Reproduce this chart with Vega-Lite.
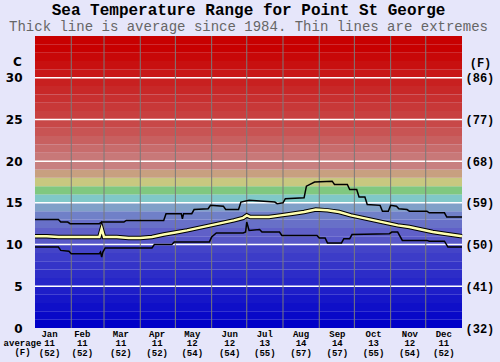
{
  "$schema": "https://vega.github.io/schema/vega-lite/v6.json",
  "width": 427,
  "height": 292,
  "autosize": "none",
  "padding": {"left": 35, "top": 36, "right": 38, "bottom": 34},
  "background": "#e6e6fa",
  "config": {"view": {"stroke": null}},
  "title": {
    "text": "Sea Temperature Range for Point St George",
    "subtitle": "Thick line is average since 1984. Thin lines are extremes",
    "font": "Liberation Mono", "fontSize": 16, "fontWeight": "bold", "color": "#000000",
    "subtitleFont": "Liberation Mono", "subtitleFontSize": 14, "subtitleColor": "#666666",
    "anchor": "middle", "frame": "group", "offset": 2, "subtitlePadding": 1.5
  },
  "datasets": {
    "bands": [
      {"lo": 0, "hi": 1}, {"lo": 1, "hi": 2}, {"lo": 2, "hi": 3}, {"lo": 3, "hi": 4}, {"lo": 4, "hi": 5},
      {"lo": 5, "hi": 6}, {"lo": 6, "hi": 7}, {"lo": 7, "hi": 8}, {"lo": 8, "hi": 9}, {"lo": 9, "hi": 10},
      {"lo": 10, "hi": 11}, {"lo": 11, "hi": 12}, {"lo": 12, "hi": 13}, {"lo": 13, "hi": 14}, {"lo": 14, "hi": 15},
      {"lo": 15, "hi": 16}, {"lo": 16, "hi": 17}, {"lo": 17, "hi": 18}, {"lo": 18, "hi": 19}, {"lo": 19, "hi": 20},
      {"lo": 20, "hi": 21}, {"lo": 21, "hi": 22}, {"lo": 22, "hi": 23}, {"lo": 23, "hi": 24}, {"lo": 24, "hi": 25},
      {"lo": 25, "hi": 26}, {"lo": 26, "hi": 27}, {"lo": 27, "hi": 28}, {"lo": 28, "hi": 29}, {"lo": 29, "hi": 30},
      {"lo": 30, "hi": 31}, {"lo": 31, "hi": 32}, {"lo": 32, "hi": 33}, {"lo": 33, "hi": 34}, {"lo": 34, "hi": 35}
    ],
    "grid": [{"g": 5}, {"g": 10}, {"g": 15}, {"g": 20}, {"g": 25}, {"g": 30}],
    "months": [{"d": 31}, {"d": 59}, {"d": 90}, {"d": 120}, {"d": 151}, {"d": 181}, {"d": 212}, {"d": 243}, {"d": 273}, {"d": 304}, {"d": 334}],
    "maxT": [
      {"d": 0, "t": 13.0}, {"d": 20, "t": 13.0}, {"d": 22, "t": 12.7}, {"d": 28, "t": 12.7}, {"d": 30, "t": 12.5},
      {"d": 55, "t": 12.5}, {"d": 57, "t": 12.7}, {"d": 76, "t": 12.7}, {"d": 78, "t": 12.9}, {"d": 110, "t": 12.9},
      {"d": 112, "t": 13.7}, {"d": 125, "t": 13.7}, {"d": 126, "t": 13.1}, {"d": 127, "t": 13.7}, {"d": 134, "t": 13.7},
      {"d": 136, "t": 14.2}, {"d": 148, "t": 14.3}, {"d": 150, "t": 14.7}, {"d": 161, "t": 14.6}, {"d": 163, "t": 14.2},
      {"d": 174, "t": 14.2}, {"d": 176, "t": 15.1}, {"d": 183, "t": 15.3}, {"d": 205, "t": 15.1}, {"d": 207, "t": 14.9},
      {"d": 212, "t": 15.0}, {"d": 214, "t": 15.5}, {"d": 230, "t": 15.6}, {"d": 232, "t": 17.0}, {"d": 239, "t": 17.5},
      {"d": 254, "t": 17.6}, {"d": 256, "t": 17.2}, {"d": 267, "t": 17.2}, {"d": 269, "t": 16.6}, {"d": 275, "t": 16.6},
      {"d": 277, "t": 15.7}, {"d": 282, "t": 15.7}, {"d": 284, "t": 14.8}, {"d": 295, "t": 14.7}, {"d": 297, "t": 14.0},
      {"d": 302, "t": 14.0}, {"d": 304, "t": 14.7}, {"d": 309, "t": 14.6}, {"d": 311, "t": 14.3}, {"d": 318, "t": 14.2},
      {"d": 320, "t": 14.0}, {"d": 335, "t": 14.0}, {"d": 337, "t": 13.8}, {"d": 350, "t": 13.8}, {"d": 352, "t": 13.3},
      {"d": 365, "t": 13.3}
    ],
    "minT": [
      {"d": 0, "t": 9.7}, {"d": 20, "t": 9.7}, {"d": 22, "t": 9.3}, {"d": 29, "t": 9.2}, {"d": 31, "t": 8.9},
      {"d": 55, "t": 8.9}, {"d": 56, "t": 9.1}, {"d": 57, "t": 8.5}, {"d": 58, "t": 9.1}, {"d": 60, "t": 9.6},
      {"d": 100, "t": 9.6}, {"d": 102, "t": 10.0}, {"d": 117, "t": 10.0}, {"d": 119, "t": 10.3}, {"d": 149, "t": 10.3},
      {"d": 151, "t": 10.9}, {"d": 155, "t": 11.4}, {"d": 178, "t": 11.4}, {"d": 180, "t": 11.5}, {"d": 181, "t": 12.7},
      {"d": 183, "t": 11.7}, {"d": 192, "t": 11.8}, {"d": 194, "t": 11.5}, {"d": 209, "t": 11.5}, {"d": 211, "t": 11.1},
      {"d": 241, "t": 11.1}, {"d": 243, "t": 10.8}, {"d": 248, "t": 10.8}, {"d": 250, "t": 10.2}, {"d": 262, "t": 10.2},
      {"d": 264, "t": 10.7}, {"d": 269, "t": 10.7}, {"d": 271, "t": 11.2}, {"d": 303, "t": 11.3}, {"d": 305, "t": 11.5},
      {"d": 310, "t": 11.5}, {"d": 314, "t": 10.5}, {"d": 335, "t": 10.5}, {"d": 337, "t": 10.4}, {"d": 350, "t": 10.4},
      {"d": 353, "t": 9.7}, {"d": 365, "t": 9.7}
    ],
    "avgT": [
      {"d": 0, "t": 11.0}, {"d": 10, "t": 11.0}, {"d": 20, "t": 10.9}, {"d": 30, "t": 10.9}, {"d": 45, "t": 10.9},
      {"d": 55, "t": 10.9}, {"d": 57, "t": 11.9}, {"d": 59, "t": 10.9}, {"d": 70, "t": 10.9}, {"d": 80, "t": 10.8},
      {"d": 90, "t": 10.8}, {"d": 100, "t": 10.9}, {"d": 110, "t": 11.2}, {"d": 120, "t": 11.45}, {"d": 130, "t": 11.7},
      {"d": 140, "t": 12.0}, {"d": 150, "t": 12.3}, {"d": 160, "t": 12.6}, {"d": 170, "t": 12.9}, {"d": 178, "t": 13.2},
      {"d": 181, "t": 13.5}, {"d": 184, "t": 13.3}, {"d": 190, "t": 13.3}, {"d": 200, "t": 13.3}, {"d": 210, "t": 13.5},
      {"d": 220, "t": 13.7}, {"d": 230, "t": 13.9}, {"d": 240, "t": 14.2}, {"d": 250, "t": 14.1}, {"d": 260, "t": 13.9},
      {"d": 270, "t": 13.5}, {"d": 280, "t": 13.2}, {"d": 290, "t": 12.9}, {"d": 300, "t": 12.6}, {"d": 310, "t": 12.3},
      {"d": 320, "t": 12.1}, {"d": 330, "t": 11.8}, {"d": 340, "t": 11.5}, {"d": 350, "t": 11.3}, {"d": 365, "t": 11.0}
    ]
  },
  "resolve": {"axis": {"x": "independent", "y": "independent"}},
  "layer": [
    {
      "data": {"name": "bands"},
      "mark": {"type": "rect"},
      "encoding": {
        "y": {"field": "lo", "type": "quantitative", "scale": {"domain": [0, 35], "nice": false, "zero": false},
          "axis": {"orient": "left", "values": [0, 5, 10, 15, 20, 25, 30], "domain": false, "ticks": false, "grid": false,
            "labelFont": "DejaVu Sans", "labelFontSize": 12, "labelFontWeight": "bold", "labelColor": "#000000", "labelPadding": 13,
            "title": "C", "titleAngle": 0, "titleX": -18, "titleY": 25, "titleAlign": "center", "titleBaseline": "middle",
            "titleFont": "DejaVu Sans", "titleFontSize": 12, "titleFontWeight": "bold", "titleColor": "#000000"}},
        "y2": {"field": "hi"},
        "color": {"field": "lo", "type": "ordinal", "legend": null,
          "scale": {"range": ["#0000c8", "#0808c8", "#0f0fc8", "#1616c8", "#1e1ec8", "#2626c8", "#2d2dc8", "#3434c8", "#3c3cc8", "#4444c8",
            "#5858c8", "#6060c8", "#6870c8", "#7080c8", "#80a0c8", "#80c8c8", "#80c880", "#c8c880", "#c8a080", "#c88080",
            "#c87878", "#c86c6c", "#c86060", "#c85454", "#c84848", "#c84040", "#c83838", "#c83030", "#c82828", "#c82020",
            "#c81818", "#c81010", "#c80808", "#c80000", "#c80000"]}}
      }
    },
    {
      "data": {"name": "grid"},
      "mark": {"type": "rule", "color": "#ffffff", "strokeWidth": 1.5},
      "encoding": {
        "y": {"field": "g", "type": "quantitative", "scale": {"domain": [0, 35], "nice": false, "zero": false},
          "axis": {"orient": "right", "values": [0, 5, 10, 15, 20, 25, 30], "domain": false, "ticks": false, "grid": false,
            "labelExpr": "'(' + round(datum.value * 9 / 5 + 32) + ')'",
            "labelFont": "Liberation Mono", "labelFontSize": 12, "labelFontWeight": "bold", "labelColor": "#000000", "labelPadding": 3,
            "title": "(F)", "titleAngle": 0, "titleX": 18, "titleY": 26, "titleAlign": "center", "titleBaseline": "middle",
            "titleFont": "Liberation Mono", "titleFontSize": 12, "titleFontWeight": "bold", "titleColor": "#000000"}}
      }
    },
    {
      "data": {"name": "months"},
      "mark": {"type": "rule", "color": "#7a7a7a", "strokeWidth": 1},
      "encoding": {
        "x": {"field": "d", "type": "quantitative", "scale": {"domain": [0, 365], "nice": false, "zero": false},
          "axis": {"orient": "bottom", "values": [12, 40, 73, 104, 134, 166, 196, 227, 258, 289, 320, 349],
            "domain": false, "ticks": false, "grid": false, "labelOverlap": false, "labelFlush": false, "labelBound": false,
            "labelExpr": "datum.value < 20 ? ['Jan','11','(52)'] : datum.value < 50 ? ['Feb','11','(52)'] : datum.value < 80 ? ['Mar','11','(52)'] : datum.value < 110 ? ['Apr','11','(52)'] : datum.value < 140 ? ['May','12','(54)'] : datum.value < 170 ? ['Jun','12','(54)'] : datum.value < 200 ? ['Jul','13','(55)'] : datum.value < 230 ? ['Aug','14','(57)'] : datum.value < 260 ? ['Sep','14','(57)'] : datum.value < 295 ? ['Oct','13','(55)'] : datum.value < 325 ? ['Nov','12','(54)'] : ['Dec','11','(52)']",
            "labelFont": "Liberation Mono", "labelFontSize": 9, "labelFontWeight": "bold", "labelColor": "#000000",
            "labelBaseline": "top", "labelPadding": 1.5, "labelLineHeight": 9.3, "labelAlign": "center",
            "title": ["average", "(F)"], "titleX": -13, "titleY": 10.5, "titleAlign": "center", "titleBaseline": "top", "titleLineHeight": 9.3,
            "titleFont": "Liberation Mono", "titleFontSize": 9, "titleFontWeight": "bold", "titleColor": "#000000"}}
      }
    },
    {
      "data": {"name": "maxT"},
      "mark": {"type": "line", "color": "#000000", "strokeWidth": 1.5},
      "encoding": {
        "x": {"field": "d", "type": "quantitative", "scale": {"domain": [0, 365], "nice": false, "zero": false}, "axis": null},
        "y": {"field": "t", "type": "quantitative", "scale": {"domain": [0, 35], "nice": false, "zero": false}, "axis": null}
      }
    },
    {
      "data": {"name": "minT"},
      "mark": {"type": "line", "color": "#000000", "strokeWidth": 1.5},
      "encoding": {
        "x": {"field": "d", "type": "quantitative", "axis": null},
        "y": {"field": "t", "type": "quantitative", "axis": null}
      }
    },
    {
      "data": {"name": "avgT"},
      "mark": {"type": "line", "color": "#000000", "strokeWidth": 4.5},
      "encoding": {
        "x": {"field": "d", "type": "quantitative", "axis": null},
        "y": {"field": "t", "type": "quantitative", "axis": null}
      }
    },
    {
      "data": {"name": "avgT"},
      "mark": {"type": "line", "color": "#ffffb0", "strokeWidth": 2.5},
      "encoding": {
        "x": {"field": "d", "type": "quantitative", "axis": null},
        "y": {"field": "t", "type": "quantitative", "axis": null}
      }
    }
  ]
}
